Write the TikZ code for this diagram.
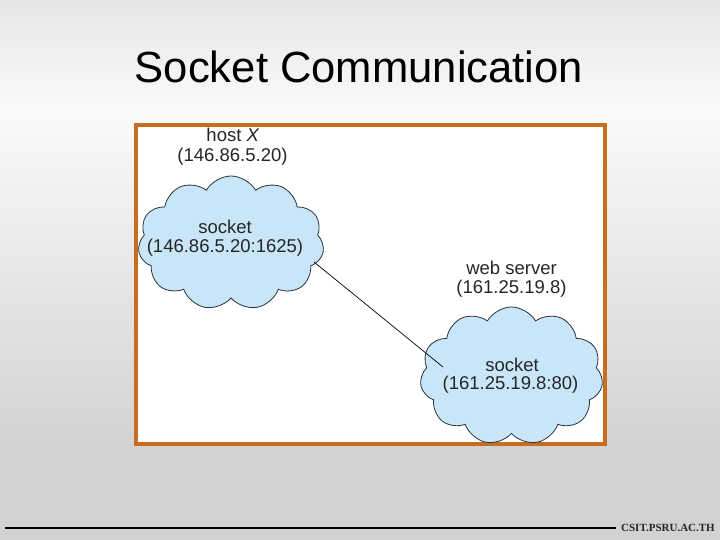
\documentclass[tikz,border=0pt]{standalone}
\usepackage{fontspec}
\setmainfont{Liberation Sans}
\newfontfamily\footfont{Liberation Serif}
\usetikzlibrary{shapes.symbols}
\definecolor{framecol}{RGB}{198,110,30}
\definecolor{cloudfill}{RGB}{200,230,248}
\definecolor{cloudline}{RGB}{40,50,60}
\definecolor{bgtop}{RGB}{230,230,230}
\definecolor{bgmid}{RGB}{250,250,250}
\definecolor{bgbot}{RGB}{210,210,210}
\tikzset{
  cloudbox/.style={cloud, cloud puffs=11, cloud puff arc=120, cloud ignores aspect,
    draw=cloudline, line width=0.8pt, fill=cloudfill, inner sep=0pt},
  lbl/.style={inner sep=0pt, font=\fontsize{18.5}{22}\selectfont, text=black!85},
}
\begin{document}
\begin{tikzpicture}[x=1pt,y=-1pt]
\useasboundingbox (0,0) rectangle (720,540);
% background
\shade[top color=bgtop, bottom color=bgmid] (0,0) rectangle (720,110);
\shade[top color=bgmid, bottom color=bgbot] (0,110) rectangle (720,450);
\fill[bgbot] (0,450) rectangle (720,540);
% title
\node[inner sep=0pt, anchor=base, font=\fontsize{43.6}{50}\selectfont] (title) at (359,83) {Socket Communication};
% frame
\draw[framecol, line width=4pt, fill=white] (136,125) rectangle (605,444);
% clouds
\node[cloudbox, minimum width=186pt, minimum height=134pt] (c1) at (231,243) {};
\node[cloudbox, minimum width=183pt, minimum height=138pt] (c2) at (511.5,376) {};
% connector
\coordinate (a) at (314,262);
\coordinate (b) at (443,367);
\draw[black, line width=0.7pt] (a) -- (b);
% labels
\node[lbl] (hx) at (233,135) {host \textit{X}};
\node[lbl] (hxip) at (232.5,157) {(146.86.5.20)};
\node[lbl] (s1) at (225,227) {socket};
\node[lbl] (s1ip) at (225,248) {(146.86.5.20:1625)};
\node[lbl] (ws) at (511.5,268) {web server};
\node[lbl] (wsip) at (511.5,289) {(161.25.19.8)};
\node[lbl] (s2) at (512,365) {socket};
\node[lbl] (s2ip) at (510.5,385) {(161.25.19.8:80)};
% footer
\coordinate (fl) at (5,528);
\node[inner sep=0pt, anchor=east, font=\footfont\bfseries\fontsize{11}{12}\selectfont, text=black!85] (foot) at (715,528) {CSIT.PSRU.AC.TH};
\draw[black, line width=1.2pt] (fl) -- ([xshift=-5pt]foot.west);
\end{tikzpicture}
\end{document}
